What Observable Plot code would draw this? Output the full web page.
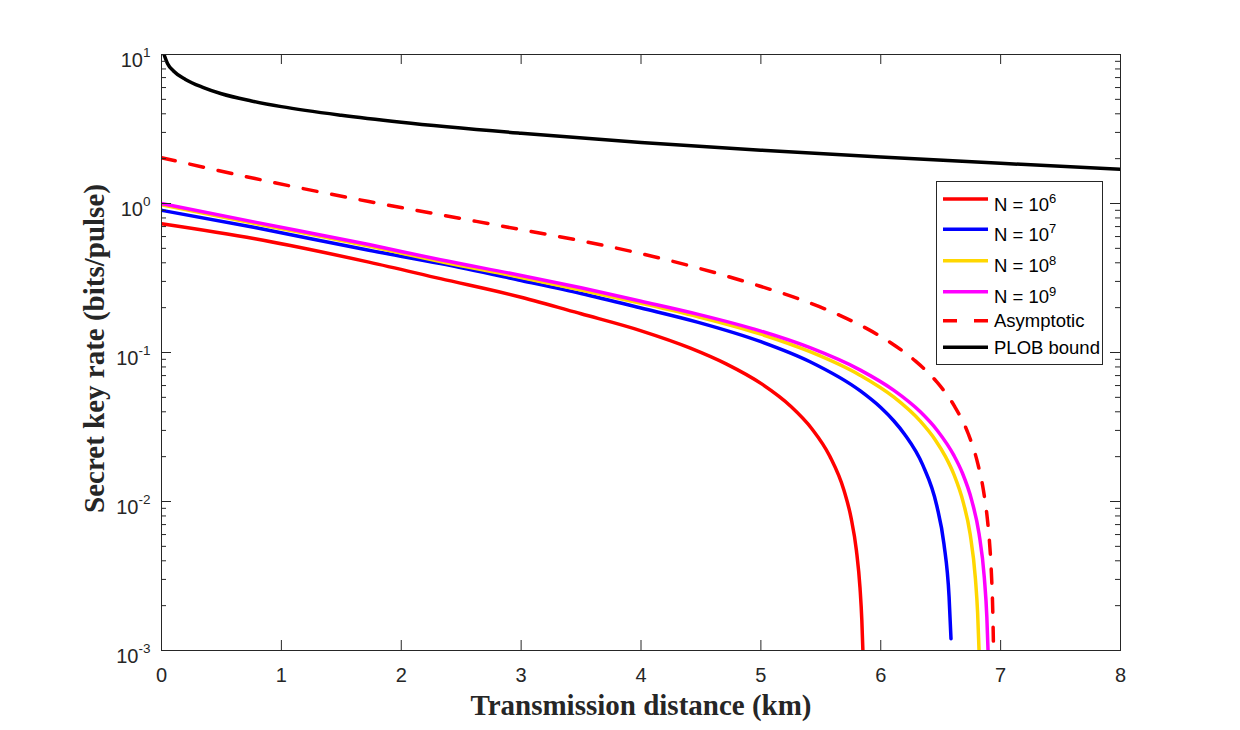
<!DOCTYPE html>
<html><head><meta charset="utf-8">
<script src="https://cdn.jsdelivr.net/npm/d3@7"></script>
<script src="https://cdn.jsdelivr.net/npm/@observablehq/plot@0.6"></script>
<style>
body{margin:0;background:#fff;}
#wrap{position:relative;width:1240px;height:730px;}
#legend{position:absolute;left:936px;top:181px;}
</style></head><body><div id="wrap"></div>
<script>
// ---- data ----
const xTicks = [0, 1, 2, 3, 4, 5, 6, 7, 8];
const yDecades = [0.001, 0.01, 0.1, 1, 10];
const seriesNames = ["N = 10^6", "N = 10^7", "N = 10^8", "N = 10^9", "Asymptotic", "PLOB bound"];
const seriesColors = ["#ff0000", "#0000ff", "#ffd700", "#ff00ff", "#ff0000", "#000000"];
const seriesDash = [null, null, null, null, "14,15", null];

const distN6 = [0, 0.78, 1.73, 2.327, 3.0, 3.5, 3.995, 4.412, 4.71, 5.01, 5.246, 5.425, 5.574, 5.693, 5.752, 5.797, 5.827, 5.842, 5.851];
const rateN6 = [0.731, 0.58, 0.404, 0.313, 0.235, 0.182, 0.1404, 0.107, 0.0839, 0.0613, 0.0438, 0.0308, 0.0202, 0.0119, 0.0078, 0.00469, 0.00263, 0.00161, 0.001];

const distN7 = [0, 0.78, 1.73, 2.327, 3.0, 3.5, 4.0, 4.47, 5.0, 5.41, 5.83, 6.0, 6.11, 6.2, 6.35, 6.467, 6.527, 6.57, 6.586];
const rateN7 = [0.90, 0.69, 0.485, 0.395, 0.304, 0.249, 0.199, 0.160, 0.1182, 0.0867, 0.0552, 0.0427, 0.0347, 0.0282, 0.0176, 0.0094, 0.0052, 0.00229, 0.0012];

const distN8 = [0, 0.78, 1.73, 2.327, 3.0, 3.5, 4.0, 4.47, 5.0, 5.41, 5.83, 6.11, 6.33, 6.455, 6.54, 6.61, 6.69, 6.745, 6.79, 6.808, 6.82];
const rateN8 = [0.98, 0.735, 0.518, 0.408, 0.319, 0.263, 0.214, 0.174, 0.1327, 0.1013, 0.0702, 0.0501, 0.0346, 0.0259, 0.020, 0.0152, 0.00976, 0.0061, 0.00301, 0.0018, 0.001];

const distN9 = [0, 0.78, 1.73, 2.327, 3.0, 3.5, 4.0, 4.47, 5.0, 5.41, 5.83, 6.11, 6.33, 6.47, 6.61, 6.68, 6.76, 6.82, 6.864, 6.885, 6.895];
const rateN9 = [1.0, 0.75, 0.53, 0.419, 0.329, 0.272, 0.221, 0.181, 0.1392, 0.1077, 0.0762, 0.0557, 0.040, 0.0301, 0.0204, 0.0156, 0.0101, 0.00607, 0.00308, 0.00168, 0.001];

const distAsym = [0, 0.78, 1.73, 2.327, 3.011, 3.504, 3.995, 4.471, 4.948, 5.305, 5.654, 5.877, 6.086, 6.288, 6.467, 6.616, 6.729, 6.81, 6.855, 6.89, 6.908, 6.923, 6.935, 6.941];
const rateAsym = [2.03, 1.47, 1.03, 0.84, 0.665, 0.561, 0.462, 0.370, 0.286, 0.2306, 0.1783, 0.1457, 0.1159, 0.0878, 0.0635, 0.0435, 0.0286, 0.0179, 0.0121, 0.00756, 0.00524, 0.00331, 0.00177, 0.001];

const distPLOB = [0.021, 0.05, 0.1, 0.2, 0.35, 0.5, 0.75, 1, 1.5, 2, 3, 4, 5, 6, 7, 8];
const ratePLOB = [10, 8.7, 7.75, 6.8, 6.0, 5.45, 4.88, 4.47, 3.91, 3.51, 2.96, 2.57, 2.28, 2.05, 1.86, 1.70];

const seriesDist = [distN6, distN7, distN8, distN9, distAsym, distPLOB];
const seriesRate = [rateN6, rateN7, rateN8, rateN9, rateAsym, ratePLOB];

// ---- build ----
const yMinor = yDecades.slice(0, -1).flatMap(d => [2,3,4,5,6,7,8,9].map(m => d * m));
const ink = "#262626";
const sans = "'Liberation Sans', Arial, Helvetica, sans-serif";
const serif = "'Liberation Serif', 'Times New Roman', serif";
const tickFont = 20;

const lineMarks = seriesNames.map((name, i) => {
  const rows = seriesDist[i].map((x, j) => ({x, y: seriesRate[i][j]}));
  return Plot.line(rows, {x: "x", y: "y", stroke: seriesColors[i], strokeWidth: 3.5,
    strokeDasharray: seriesDash[i] || undefined, curve: "monotone-x", clip: true});
});

const chart = Plot.plot({
  width: 1240, height: 730,
  marginLeft: 161, marginRight: 120, marginTop: 54, marginBottom: 80,
  style: {fontFamily: sans, fontSize: tickFont + "px", color: ink, background: "white", overflow: "visible"},
  x: {domain: [0, 8]},
  y: {type: "log", domain: [0.001, 10]},
  marks: [
    ...lineMarks,
    Plot.frame({stroke: ink, strokeWidth: 1}),
    Plot.tickX(xTicks, {x: d => d, insetTop: 586, stroke: ink}),
    Plot.tickX(xTicks, {x: d => d, insetBottom: 586, stroke: ink}),
    Plot.tickY(yDecades, {y: d => d, insetRight: 949, stroke: ink}),
    Plot.tickY(yDecades, {y: d => d, insetLeft: 949, stroke: ink}),
    Plot.tickY(yMinor, {y: d => d, insetRight: 954, stroke: ink}),
    Plot.tickY(yMinor, {y: d => d, insetLeft: 954, stroke: ink}),
    Plot.axisX({ticks: xTicks, tickSize: 0, tickPadding: 17, fontSize: tickFont, label: null, tickFormat: d => String(d)}),
    Plot.axisY({ticks: yDecades, tickSize: 0, tickPadding: 11, fontSize: tickFont, label: null, dy: 6.5,
      tickFormat: d => "10^" + Math.round(Math.log10(d))}),
    Plot.text(["Transmission distance (km)"], {text: d => d, frameAnchor: "bottom", dy: 64,
      fontSize: 29, fontWeight: "bold", fontFamily: serif, fill: ink}),
    Plot.text(["Secret key rate (bits/pulse)"], {text: d => d, frameAnchor: "left", rotate: -90,
      textAnchor: "middle", dx: -67, dy: -4, fontSize: 29, fontWeight: "bold", fontFamily: serif, fill: ink})
  ]
});

const NS = "http://www.w3.org/2000/svg";
// tick label size + superscript exponents in y tick labels
chart.querySelectorAll('g[aria-label$="tick label"]').forEach(g => g.setAttribute("font-size", tickFont));
chart.querySelectorAll("text").forEach(t => {
  if (t.childElementCount === 0 && t.textContent.includes("^")) {
    const [b, e] = t.textContent.split("^");
    t.textContent = "";
    const t1 = document.createElementNS(NS, "tspan"); t1.textContent = b;
    const t2 = document.createElementNS(NS, "tspan"); t2.textContent = e;
    t2.setAttribute("dy", "-10"); t2.setAttribute("font-size", "13.5");
    t.append(t1, t2);
  }
});

const wrap = document.getElementById("wrap");
wrap.appendChild(chart);

// legend (inside plot area)
const lw = 167, lh = 184;
const lineY = [18, 48.3, 79.7, 110.7, 139.7, 166.3];
const textY = [29.5, 59.8, 91, 122, 146, 172.8];
const leg = d3.create("svg").attr("id", "legend").attr("width", lw).attr("height", lh)
  .style("font-family", sans);
leg.append("rect").attr("x", 0.5).attr("y", 0.5).attr("width", lw - 1).attr("height", lh - 1)
  .attr("fill", "white").attr("stroke", ink).attr("stroke-width", 1);
seriesNames.forEach((name, i) => {
  leg.append("line").attr("x1", 7).attr("x2", 52).attr("y1", lineY[i]).attr("y2", lineY[i])
    .attr("stroke", seriesColors[i]).attr("stroke-width", 3.5)
    .attr("stroke-dasharray", seriesDash[i] ? "14,17" : null);
  const t = leg.append("text").attr("x", 58).attr("y", textY[i]).attr("font-size", 18.5).attr("fill", "#000");
  const [b, e] = name.split("^");
  t.append("tspan").text(b);
  if (e !== undefined) t.append("tspan").attr("dy", -7.5).attr("font-size", 13).text(e);
});
wrap.appendChild(leg.node());
</script></body></html>
